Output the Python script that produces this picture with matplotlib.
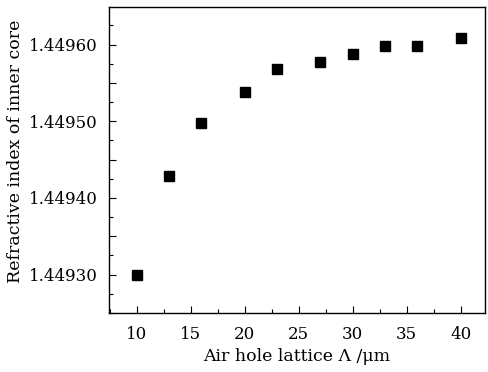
import matplotlib
matplotlib.use("Agg")
import matplotlib.pyplot as plt
from matplotlib.ticker import MultipleLocator, FuncFormatter

plt.rcParams["font.family"] = "DejaVu Serif"

# air hole lattice (um) vs refractive index of inner core
lattice = [10, 13, 16, 20, 23, 27, 30, 33, 36, 40]
index = [1.449299, 1.449428, 1.449498, 1.449538, 1.449568,
         1.449577, 1.449588, 1.449598, 1.449598, 1.449609]

fig = plt.figure(figsize=(4.88, 3.72), dpi=100)
ax = fig.add_axes([0.2234, 0.1586, 0.7705, 0.8226])

ax.plot(lattice, index, linestyle="none", marker="s", markersize=7.5, color="black")

ax.set_xlim(7.45, 42.25)
ax.set_ylim(1.44925, 1.449649)

ax.xaxis.set_major_locator(MultipleLocator(5))
ax.xaxis.set_minor_locator(MultipleLocator(2.5))
ax.yaxis.set_major_locator(MultipleLocator(0.00005))
ax.yaxis.set_minor_locator(MultipleLocator(0.000025))


def ylab(v, pos):
    k = round(v * 1e5)
    if k % 10 == 0:
        return "%.5f" % v
    return ""


ax.yaxis.set_major_formatter(FuncFormatter(ylab))

ax.tick_params(which="both", direction="in", labelsize=12, width=0.8)
ax.tick_params(which="major", length=5)
ax.tick_params(which="minor", length=3)
ax.tick_params(axis="x", pad=9)
ax.tick_params(axis="y", pad=8)

ax.set_xlabel("Air hole lattice Λ /μm", fontsize=12.5, labelpad=4)
ax.set_ylabel("Refractive index of inner core", fontsize=12.5)
ax.yaxis.set_label_coords(-0.225, 0.53)

for s in ax.spines.values():
    s.set_linewidth(1.0)

fig.savefig("out.png", dpi=100)
